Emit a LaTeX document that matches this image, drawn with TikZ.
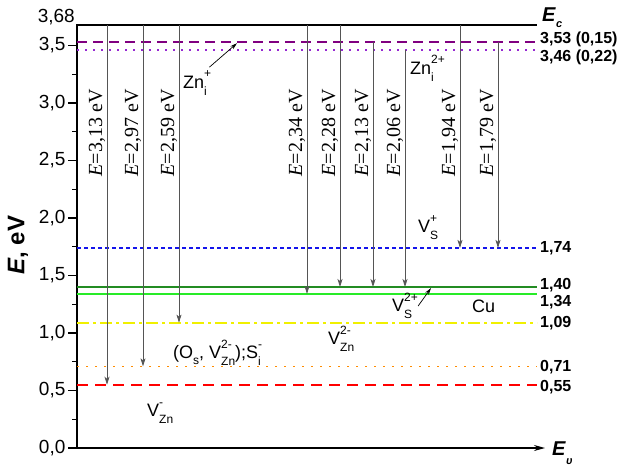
\documentclass[tikz,border=0pt]{standalone}
\usepackage{fontspec}
\setmainfont{Liberation Serif}
\setsansfont{Liberation Sans}
\usetikzlibrary{arrows.meta}
\definecolor{zndash}{RGB}{128,0,128}
\definecolor{zndot}{RGB}{150,40,210}
\definecolor{vsblue}{RGB}{20,20,235}
\definecolor{cudark}{RGB}{35,140,35}
\definecolor{culight}{RGB}{40,235,40}
\definecolor{vznyellow}{RGB}{240,240,0}
\definecolor{osorange}{RGB}{255,140,0}
\definecolor{vznred}{RGB}{255,0,0}
\definecolor{transgray}{RGB}{85,85,85}
\newcommand{\ionlbl}[3]{#1\raisebox{-7pt}{\fontsize{12}{12}\selectfont\begin{tabular}[b]{@{}l@{}}#3\\[5pt]#2\end{tabular}}}

\begin{document}
\begin{tikzpicture}[x=1pt,y=115pt,
    ticklbl/.style={left,inner sep=2pt,font=\sffamily\fontsize{19}{19}\selectfont},
    levlbl/.style={anchor=west,inner sep=0pt,font=\sffamily\bfseries\fontsize{16}{16}\selectfont},
    translbl/.style={rotate=90,anchor=base,inner sep=0pt,font=\rmfamily\fontsize{20}{20}\selectfont},
    trans/.style={transgray,line width=0.8pt,-{Stealth[length=8pt,width=5pt,inset=2pt]}},
    defect/.style={anchor=base west,inner sep=0pt,font=\sffamily\fontsize{18}{18}\selectfont},
    pointer/.style={black,line width=0.7pt,-{Stealth[length=7pt,width=4pt]}}]
  \useasboundingbox (0,-0.1391) rectangle (619,3.8957);
  % energy axis: 1 eV = 115 px, band gap 3,68 eV
  \draw[line width=1.6pt] (77,0) -- (77,3.68) -- (537,3.68);
  \draw[line width=1.4pt,-{Stealth[length=11pt,width=6pt]}] (77,0) -- (545,0);
  % ticks: major every 0,5, minor every 0,25
  \foreach \v/\lbl [count=\i] in {0/{0,0},0.5/{0,5},1/{1,0},1.5/{1,5},2/{2,0},2.5/{2,5},3/{3,0},3.5/{3,5}}
    \draw[line width=1.2pt] (77,\v) -- (68,\v) node[ticklbl] (tick\i) {\lbl};
  \foreach \v in {0.25,0.75,...,3.25}
    \draw[line width=1.2pt] (77,\v) -- (72,\v);
  \node[anchor=base east,inner sep=0pt,font=\sffamily\fontsize{19}{19}\selectfont] (tick0) at (75,3.70) {3,68};
  \node[rotate=90,font=\sffamily\bfseries\fontsize{24}{24}\selectfont] (ylbl) at (18,1.765) {\textit{E}, eV};
  \node[anchor=base west,inner sep=0pt,font=\sffamily\bfseries\fontsize{20}{20}\selectfont] (ec) at (542,3.710)
    {\textit{E}\raisebox{-6pt}{\fontsize{11}{11}\selectfont\textit{c}}};
  \node[anchor=base west,inner sep=0pt,font=\sffamily\bfseries\fontsize{20}{20}\selectfont] (ev) at (552,-0.061)
    {\textit{E}\raisebox{-9pt}{\fontsize{11}{11}\selectfont\textit{υ}}};
  % defect levels
  \draw[zndash,line width=1.5pt,dash pattern=on 10pt off 6pt] (77,3.53) -- (537,3.53);
  \draw[zndot,line width=1.6pt,dash pattern=on 1.6pt off 6.4pt] (77,3.46) -- (537,3.46);
  \draw[vsblue,line width=1.5pt,dash pattern=on 4pt off 3pt] (77,1.74) -- (537,1.74);
  \draw[cudark,line width=2.4pt] (77,1.40) -- (537,1.40);
  \draw[culight,line width=2pt] (77,1.34) -- (537,1.34);
  \draw[vznyellow,line width=1.8pt,dash pattern=on 12pt off 4pt on 3pt off 4pt] (77,1.09) -- (537,1.09);
  \draw[osorange,line width=1.6pt,dash pattern=on 1.6pt off 7.4pt] (77,0.71) -- (537,0.71);
  \draw[vznred,line width=1.8pt,dash pattern=on 11pt off 7pt] (77,0.55) -- (537,0.55);
  % level values
  \node[levlbl] (l353) at (540,3.555) {3,53 (0,15)};
  \node[levlbl] (l346) at (540,3.400) {3,46 (0,22)};
  \node[levlbl] (l174) at (540,1.740) {1,74};
  \node[levlbl] (l140) at (540,1.417) {1,40};
  \node[levlbl] (l134) at (540,1.270) {1,34};
  \node[levlbl] (l109) at (540,1.090) {1,09};
  \node[levlbl] (l071) at (540,0.700) {0,71};
  \node[levlbl] (l055) at (540,0.530) {0,55};
  % transitions: x (px) / from / to / energy
  \foreach \xx/\ys/\ye/\lbl in {107/3.68/0.55/{3,13}, 143/3.68/0.71/{2,97}, 179/3.68/1.09/{2,59},
      307/3.68/1.34/{2,34}, 340/3.68/1.40/{2,28}, 373/3.53/1.40/{2,13}, 405/3.46/1.40/{2,06},
      460/3.68/1.74/{1,94}, 498/3.53/1.74/{1,79}} {
    \draw[trans] (\xx,\ys) -- (\xx,\ye);
    \node[translbl] (e\xx) at (\xx-5,2.74) {\textit{E}=\lbl~eV};
  }
  % defect names
  \node[defect] (znp) at (183,3.130) {\ionlbl{Zn}{i}{+}};
  \node[defect] (zn2p) at (410,3.252) {\ionlbl{Zn}{i}{2+}};
  \node[defect] (vsp) at (418,1.870) {\ionlbl{V}{S}{+}};
  \node[defect] (vs2p) at (392,1.183) {\ionlbl{V}{S}{2+}};
  \node[defect] (cu) at (472,1.174) {Cu};
  \node[defect] (vzn2m) at (328,0.896) {\ionlbl{V}{Zn}{2-}};
  \node[defect] (osvzn) at (173,0.774) {(O\raisebox{-6pt}{\fontsize{12}{12}\selectfont s}, \ionlbl{V}{Zn}{2-});\ionlbl{S}{i}{-}};
  \node[defect] (vznm) at (147,0.270) {\ionlbl{V}{Zn}{-}};
  \coordinate (znptip) at (237,3.52);
  \coordinate (vstip) at (431,1.391);
  \draw[pointer] ([shift={(-2pt,2pt)}]znp.north east) -- (znptip);
  \draw[pointer] ([yshift=2pt]vs2p.east) -- (vstip);
\end{tikzpicture}
\end{document}
